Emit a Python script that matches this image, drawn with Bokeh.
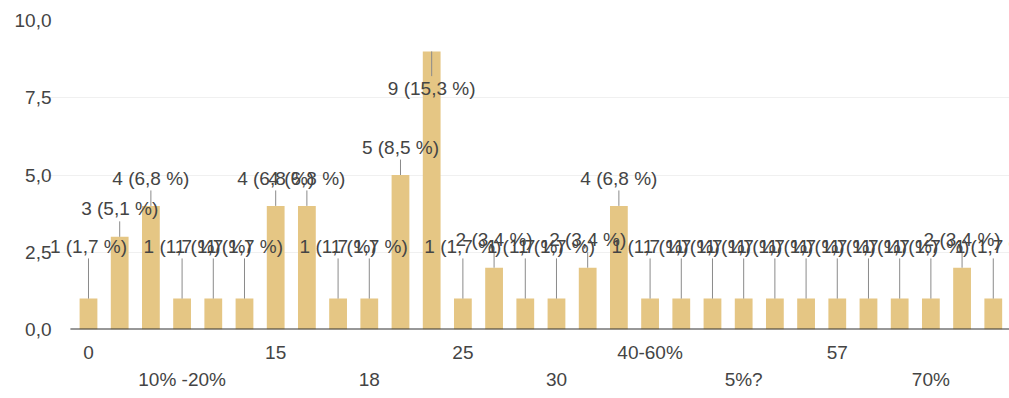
from bokeh.plotting import figure
from bokeh.models import ColumnDataSource, LinearAxis, FixedTicker, Range1d, CustomJSTickFormatter, Label
from bokeh.embed import file_html
from bokeh.resources import INLINE

# Survey answers (only some of them are shown as axis labels) and response counts
answers = ["0", "", "", "10% -20%", "", "", "15", "", "", "18", "", "",
           "25", "", "", "30", "", "", "40-60%", "", "", "5%?", "", "",
           "57", "", "", "70%", "", ""]
counts = [1, 3, 4, 1, 1, 1, 4, 4, 1, 1, 5, 9, 1, 2, 1,
          1, 2, 4, 1, 1, 1, 1, 1, 1, 1, 1, 1, 1, 2, 1]
y_ticks = [0, 2.5, 5, 7.5, 10]

total = sum(counts)
xs = list(range(len(counts)))
labels = [f"{c} ({c / total * 100:.1f} %)".replace(".", ",") for c in counts]

# place labels above the bars, kept inside a band so they stay in the plot
label_y = [min(max(c + 0.9, 2.7), 7.8) for c in counts]
seg_end = [ly - 0.4 if ly > c else ly + 0.4 for c, ly in zip(counts, label_y)]

src = ColumnDataSource(dict(x=xs, top=counts, label=labels, ly=label_y, se=seg_end))

FONT = "Liberation Sans"
TEXT = "#444444"
SIZE = "19px"
X_START, X_END = -1.41, 29.52   # wide enough on the left for the first value label
BASE_START = -0.58              # where the baseline begins

p = figure(width=1009, height=398, output_backend="svg", toolbar_location=None,
           x_range=Range1d(X_START, X_END), y_range=Range1d(0, 10),
           x_axis_location=None, min_border_left=44, min_border_right=0,
           min_border_top=20, min_border_bottom=69)
p.outline_line_color = None
p.xgrid.grid_line_color = None
p.ygrid.grid_line_color = "#f0f0f0"
p.ygrid.ticker = FixedTicker(ticks=y_ticks)

p.vbar(x="x", top="top", width=0.57, source=src, color="#E5C684", line_color=None)
p.segment(x0="x", y0="top", x1="x", y1="se", source=src, line_color="#8a8a8a", line_width=1)
# dark baseline at zero
p.segment(x0=[BASE_START], y0=[0], x1=[X_END], y1=[0], line_color="#333333", line_width=2)

for x, ly, text in zip(xs, label_y, labels):
    p.add_layout(Label(x=x, y=ly, text=text, text_align="center",
                       text_baseline="middle", text_font=FONT,
                       text_font_size=SIZE, text_color=TEXT))

# y axis with comma decimals; labels pulled in toward the bars
yax = p.yaxis[0]
yax.ticker = FixedTicker(ticks=y_ticks)
yax.formatter = CustomJSTickFormatter(code="return tick.toFixed(1).replace('.', ',');")
yax.axis_line_color = None
yax.major_tick_line_color = None
yax.minor_tick_line_color = None
yax.major_label_standoff = -13
yax.major_label_text_font = FONT
yax.major_label_text_font_size = SIZE
yax.major_label_text_color = TEXT

fmt = CustomJSTickFormatter(args=dict(labels=answers),
                            code="return labels[Math.round(tick)] || '';")

# two staggered rows of category labels
shown = [i for i, a in enumerate(answers) if a]
row1 = shown[0::2]
row2 = shown[1::2]

ax1 = LinearAxis(ticker=FixedTicker(ticks=row1), formatter=fmt)
ax1.major_label_standoff = 6
ax2 = LinearAxis(ticker=FixedTicker(ticks=row2), formatter=fmt)
ax2.major_label_standoff = -3
for ax in (ax1, ax2):
    ax.axis_line_color = None
    ax.major_tick_line_color = None
    ax.minor_tick_line_color = None
    ax.major_label_text_font = FONT
    ax.major_label_text_font_size = SIZE
    ax.major_label_text_color = TEXT
    p.add_layout(ax, "below")

open("out.html", "w").write(file_html(p, INLINE))
